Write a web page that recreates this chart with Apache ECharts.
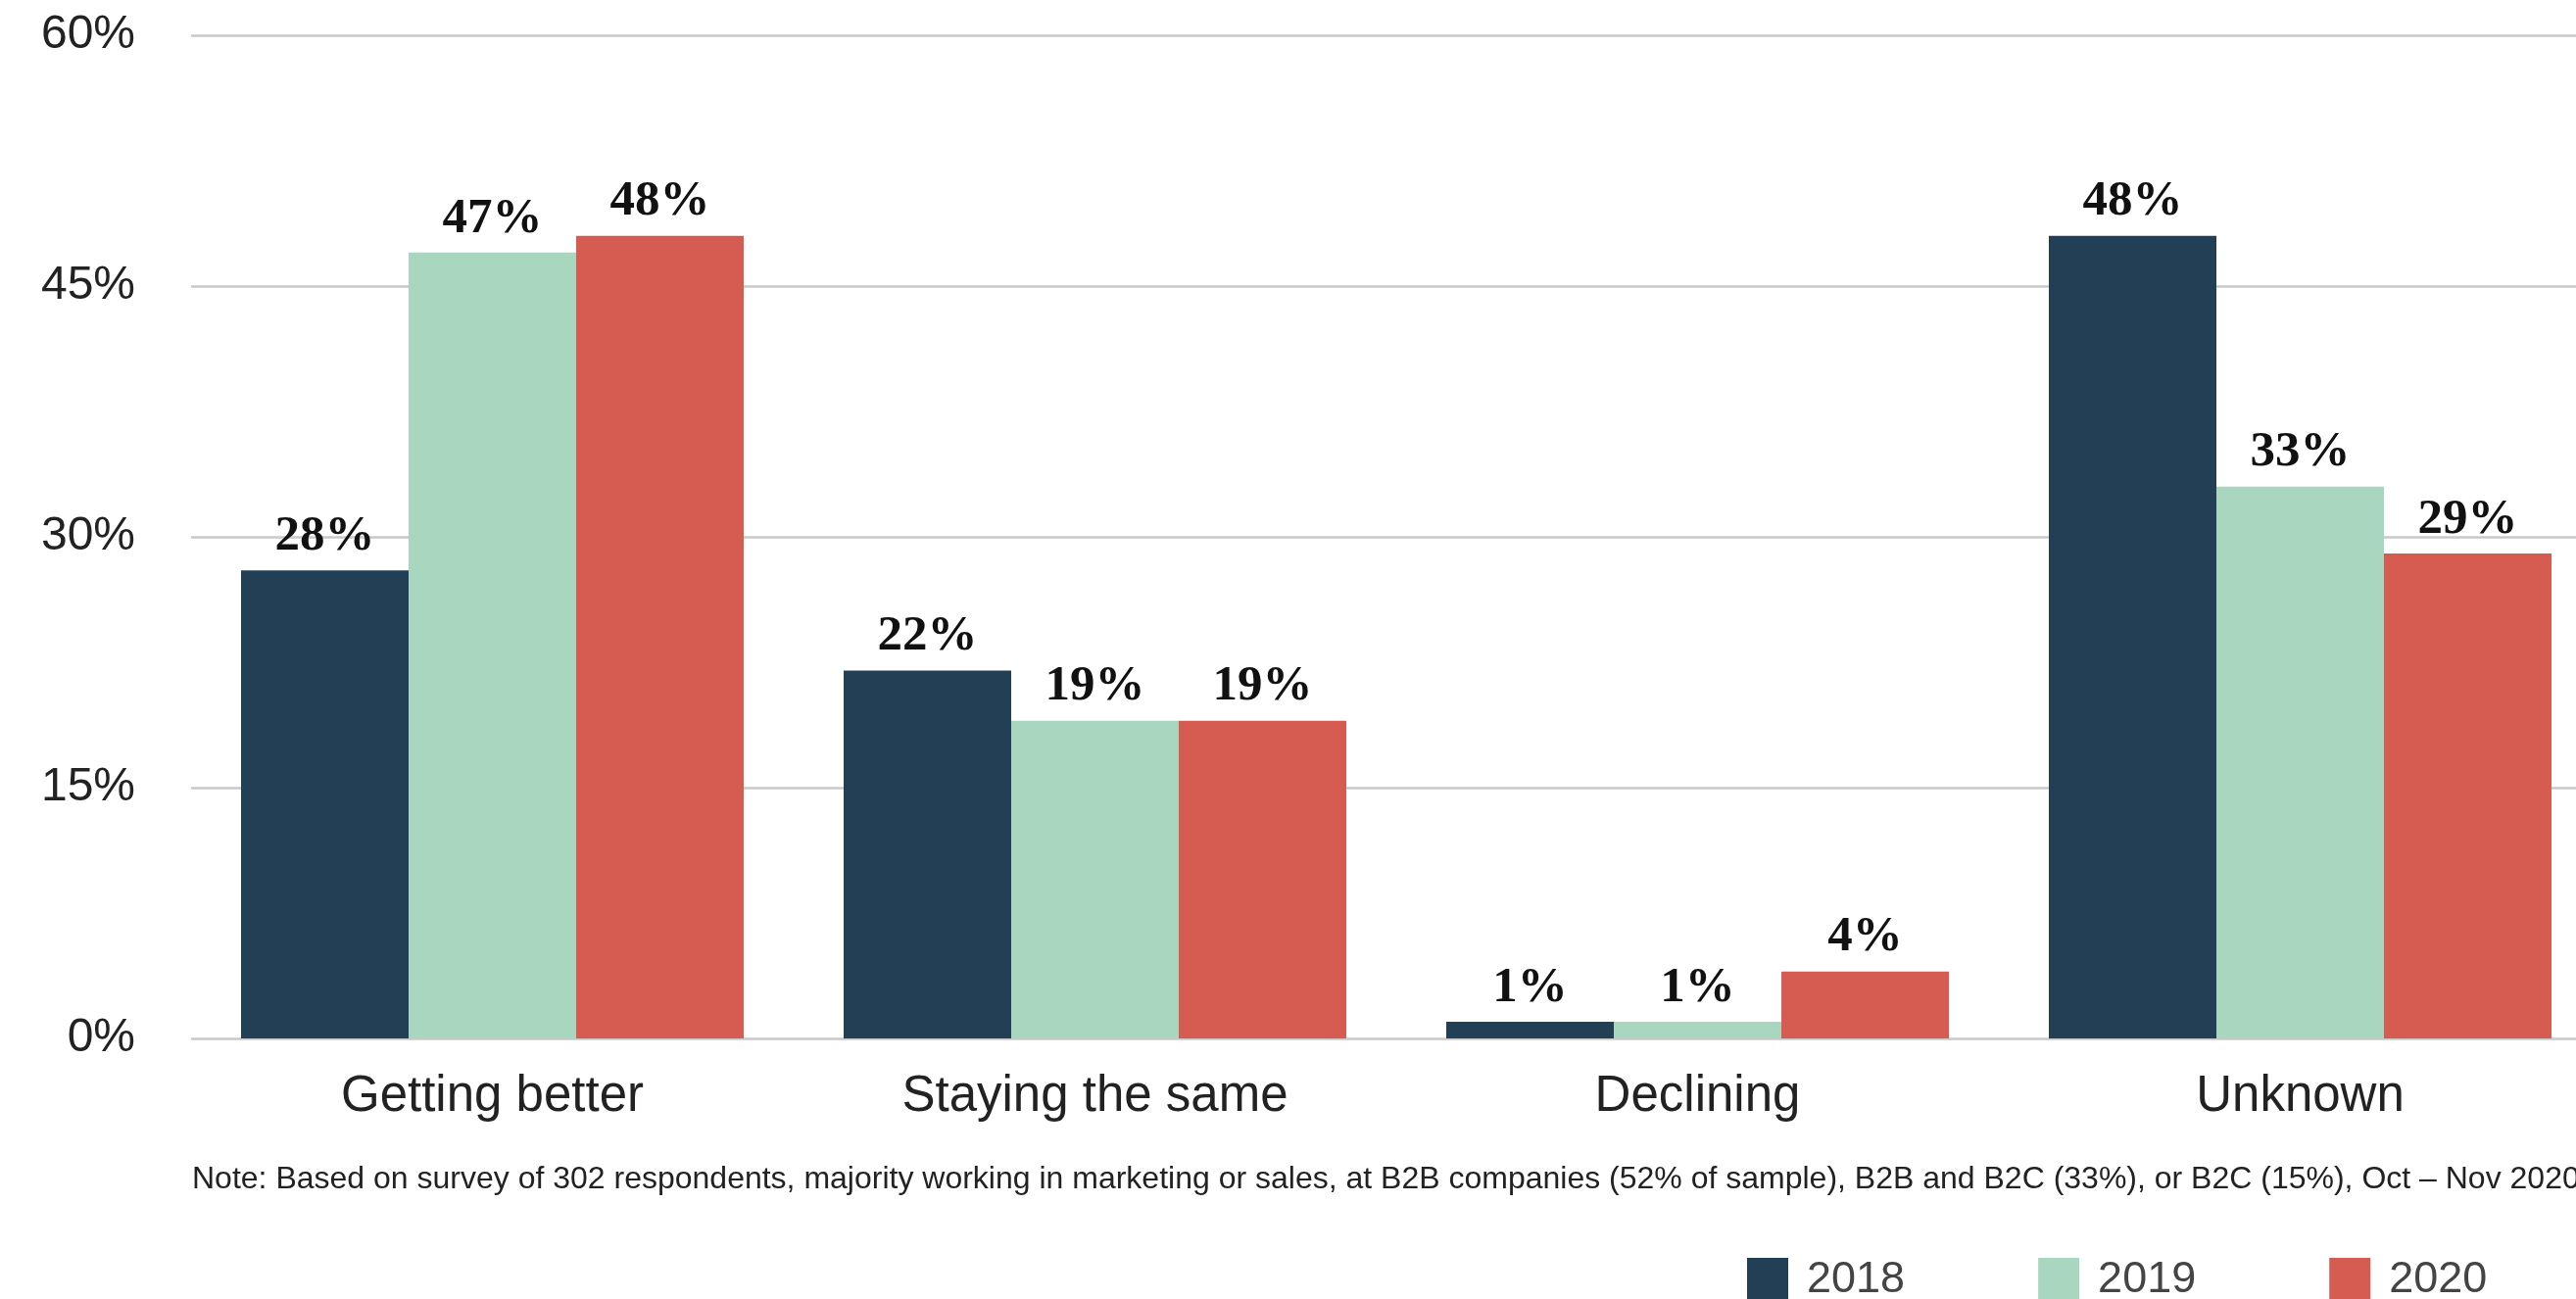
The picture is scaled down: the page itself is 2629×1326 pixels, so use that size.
<!DOCTYPE html>
<html>
<head>
<meta charset="utf-8">
<script src="https://cdn.jsdelivr.net/npm/echarts@6/dist/echarts.min.js"></script>
<style>
html,body{margin:0;padding:0;background:#fff;overflow:hidden;}
#c{width:2670px;height:1326px;}
</style>
</head>
<body>
<div id="c"></div>
<script>
const categories = ["Getting better", "Staying the same", "Declining", "Unknown"];
const seriesNames = ["2018", "2019", "2020"];
const values2018 = [28, 22, 1, 48];
const values2019 = [47, 19, 1, 33];
const values2020 = [48, 19, 4, 29];
const yTicks = [0, 15, 30, 45, 60];
const colors = ["#223f56", "#a9d6be", "#d65b51"];
const noteText = "Note: Based on survey of 302 respondents, majority working in marketing or sales, at B2B companies (52% of sample), B2B and B2C (33%), or B2C (15%), Oct \u2013 Nov 2020";

const chart = echarts.init(document.getElementById('c'), null, {renderer: 'canvas'});
const allValues = [values2018, values2019, values2020];

const labelStyle = {
  show: true,
  position: 'top',
  distance: 9,
  formatter: p => p.value + '%',
  fontFamily: '"Liberation Serif", "DejaVu Serif", serif',
  fontWeight: 'bold',
  fontSize: 51,
  color: '#111'
};

chart.setOption({
  animation: false,
  backgroundColor: '#ffffff',
  color: colors,
  title: {
    text: noteText,
    left: 196,
    top: 1188,
    padding: 0,
    textStyle: {
      fontFamily: '"Liberation Sans", Arial, sans-serif',
      fontWeight: 'normal',
      fontSize: 32,
      color: '#222'
    }
  },
  legend: {
    data: seriesNames,
    left: 1778,
    top: 1279,
    itemWidth: 42,
    itemHeight: 46,
    itemGap: 136,
    icon: 'rect',
    textStyle: {
      fontFamily: '"Liberation Sans", Arial, sans-serif',
      fontSize: 45,
      color: '#444',
      padding: [0, 0, 0, 14]
    }
  },
  grid: {
    left: 195,
    top: 36,
    width: 2460,
    height: 1024,
    containLabel: false
  },
  xAxis: {
    type: 'category',
    data: categories,
    axisLine: {show: false},
    axisTick: {show: false},
    axisLabel: {
      margin: 34,
      fontFamily: '"Liberation Sans", Arial, sans-serif',
      fontSize: 51,
      color: '#222'
    }
  },
  yAxis: {
    type: 'value',
    min: yTicks[0],
    max: yTicks[yTicks.length - 1],
    interval: 15,
    axisLine: {show: false},
    axisTick: {show: false},
    splitLine: {lineStyle: {color: '#c8c8c8', width: 2.5}},
    axisLabel: {
      margin: 57,
      formatter: v => v + '%',
      fontFamily: '"Liberation Sans", Arial, sans-serif',
      fontSize: 48,
      color: '#222'
    }
  },
  series: seriesNames.map((name, i) => ({
    name: name,
    type: 'bar',
    data: allValues[i],
    barWidth: 171,
    barGap: '0%',
    itemStyle: {color: colors[i]},
    label: labelStyle
  }))
});
</script>
</body>
</html>
